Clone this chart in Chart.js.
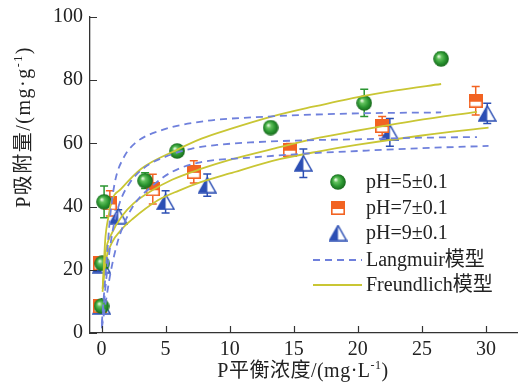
<!DOCTYPE html>
<html><head><meta charset="utf-8">
<script src="https://cdn.jsdelivr.net/npm/chart.js@4.4.1/dist/chart.umd.min.js"></script>
<style>html,body{margin:0;padding:0;background:#fff}</style>
</head><body>
<canvas id="c" width="518" height="388"></canvas>
<script>
// ---- data ----
const xTickVals = [0, 5, 10, 15, 20, 25, 30];
const yTickVals = [0, 20, 40, 60, 80, 100];
const seriesNames = ['pH=5±0.1', 'pH=7±0.1', 'pH=9±0.1'];
const modelNames = ['Langmuir模型', 'Freundlich模型'];

const pH5X = [0.0, 0.05, 0.2, 3.4, 5.9, 13.2, 20.5, 26.5];
const pH5Y = [8.5, 22, 41.5, 48.2, 57.6, 65, 72.8, 86.8];
const pH5Err = [1.5, 1.5, 5, 2.5, 1, 1, 4.3, 2];

const pH7X = [-0.1, -0.1, 0.65, 4.0, 7.2, 14.7, 21.9, 29.2];
const pH7Y = [8.5, 22, 41, 45.5, 51, 58, 65.5, 73.5];
const pH7Err = [1.5, 1.5, 4, 4.7, 3.5, 2, 3, 4.5];

const pH9X = [0.0, 0.0, 1.3, 5.0, 8.25, 15.75, 22.5, 30.1];
const pH9Y = [8.5, 21.5, 37, 41.5, 46.8, 53.7, 63.5, 69.5];
const pH9Err = [1.5, 1.5, 2, 3.5, 3.5, 4.5, 4.4, 3.2];

const lang5X = [0.02, 0.15, 0.4, 0.67, 1.05, 1.7, 2.6, 4.7, 7.8, 13, 20, 26.5];
const lang5Y = [3, 10, 23, 36.8, 47.9, 55.3, 60, 64.2, 66.9, 68.5, 69.5, 69.8];
const lang7X = [0.02, 0.2, 0.5, 0.9, 1.4, 2.2, 3.4, 5, 7, 9, 11.6, 16, 20, 25, 29.3];
const lang7Y = [2, 10, 22, 33, 41, 47.5, 52.5, 55.8, 58.3, 59.5, 60.3, 61, 61.3, 61.8, 62];
const lang9X = [0.02, 0.3, 0.7, 1.2, 1.8, 2.6, 3.8, 5.5, 7.7, 11.6, 16, 20, 25, 30.2];
const lang9Y = [1.5, 9, 19, 28, 35, 41, 46, 51, 54, 55.5, 56.8, 57.6, 58.5, 59.2];

const freu5X = [0.1, 0.28, 0.55, 0.8, 1.5, 3.1, 5.9, 7.8, 10, 13.2, 16.5, 19.9, 23, 26.5];
const freu5Y = [14, 29, 37, 42, 45.5, 52, 58, 61.5, 64.5, 68.4, 71.6, 74.6, 76.8, 78.8];
const freu7X = [0.08, 0.3, 0.8, 1.6, 2.5, 3.9, 5.5, 7.8, 10, 13.9, 17, 19.9, 24.5, 29.3];
const freu7Y = [14, 25, 31.5, 37, 41, 45, 48.5, 52, 54.8, 58.8, 61.8, 64, 67.2, 70];
const freu9X = [0.08, 0.3, 0.8, 1.5, 2.4, 4.4, 6, 7.8, 10, 13.9, 17, 19.9, 25, 30.2];
const freu9Y = [13, 22, 28.5, 32.5, 36, 42, 45, 47.8, 50.5, 55, 57.5, 59.5, 62.5, 65];

// ---- styles ----
const GREEN = '#2a9530', ORANGE = '#f26322', BLUE = '#2c4fb4';
const DASH = '#6f80dc', YEL = '#c9c634';
const FONT = '"Liberation Serif","Noto Sans CJK SC",serif';

function sphere() {
  const c = document.createElement('canvas'); c.width = 16; c.height = 16;
  const g = c.getContext('2d');
  const gr = g.createRadialGradient(5.5, 5.5, 0.5, 8, 8, 8);
  gr.addColorStop(0, '#e4f7dc'); gr.addColorStop(0.25, '#63c25e');
  gr.addColorStop(0.65, '#2a9530'); gr.addColorStop(1, '#17661b');
  g.fillStyle = gr; g.beginPath(); g.arc(8, 8, 7.8, 0, Math.PI * 2); g.fill();
  return c;
}
function halfSquare() {
  const c = document.createElement('canvas'); c.width = 14; c.height = 14;
  const g = c.getContext('2d');
  g.fillStyle = '#fff'; g.fillRect(0, 0, 14, 14);
  g.fillStyle = ORANGE; g.fillRect(0, 0, 14, 8);
  g.strokeStyle = ORANGE; g.lineWidth = 1.6; g.strokeRect(0.8, 0.8, 12.4, 12.4);
  return c;
}
function halfTriangle() {
  const c = document.createElement('canvas'); c.width = 19; c.height = 17;
  const g = c.getContext('2d');
  g.fillStyle = '#fff';
  g.beginPath(); g.moveTo(9.5, 1); g.lineTo(1, 16); g.lineTo(18, 16); g.closePath(); g.fill();
  g.fillStyle = BLUE;
  g.beginPath(); g.moveTo(9.5, 1); g.lineTo(1, 16); g.lineTo(9.5, 16); g.closePath(); g.fill();
  g.strokeStyle = BLUE; g.lineWidth = 1.5; g.lineJoin = 'miter';
  g.beginPath(); g.moveTo(9.5, 1); g.lineTo(1, 16); g.lineTo(18, 16); g.closePath(); g.stroke();
  return c;
}
const markers = [sphere(), halfSquare(), halfTriangle()];
const zip = (xs, ys) => xs.map((x, i) => ({x: x, y: ys[i]}));

function pointSet(label, xs, ys, errs, marker, color) {
  return {label, data: zip(xs, ys), errs, errColor: color, pointStyle: marker, pointRadius: 8,
    showLine: false, order: 2, backgroundColor: color, borderColor: color};
}
function lineSet(label, xs, ys, color, dashed) {
  return {label, data: zip(xs, ys), showLine: true, pointRadius: 0, borderColor: color,
    borderWidth: 1.8, borderDash: dashed ? [7, 5] : [], tension: 0.4,
    cubicInterpolationMode: 'monotone', order: 1, fill: false};
}

function drawRich(ctx, parts, cx, cy, spacing) {
  const main = '20px ' + FONT, sup = '12px ' + FONT;
  ctx.letterSpacing = (spacing || 0) + 'px';
  let w = 0;
  parts.forEach(p => { ctx.font = p.sup ? sup : main; p.w = ctx.measureText(p.t).width; w += p.w; });
  let x = cx - w / 2;
  ctx.textAlign = 'left'; ctx.textBaseline = 'middle';
  parts.forEach(p => { ctx.font = p.sup ? sup : main; ctx.fillText(p.t, x, p.sup ? cy - 6 : cy); x += p.w; });
  ctx.letterSpacing = '0px';
}

const decor = {
  id: 'decor',
  beforeDatasetsDraw(chart) {
    const ctx = chart.ctx, xs = chart.scales.x, ys = chart.scales.y;
    chart.data.datasets.forEach(ds => {
      if (!ds.errs) return;
      ctx.save(); ctx.strokeStyle = ds.errColor; ctx.lineWidth = 1.5;
      ds.data.forEach((p, i) => {
        const px = xs.getPixelForValue(p.x);
        const t = ys.getPixelForValue(p.y + ds.errs[i]), b = ys.getPixelForValue(p.y - ds.errs[i]);
        ctx.beginPath();
        ctx.moveTo(px, t); ctx.lineTo(px, b);
        ctx.moveTo(px - 4, t); ctx.lineTo(px + 4, t);
        ctx.moveTo(px - 4, b); ctx.lineTo(px + 4, b);
        ctx.stroke();
      });
      ctx.restore();
    });
  },
  afterDraw(chart) {
    const ctx = chart.ctx, xs = chart.scales.x, ys = chart.scales.y, a = chart.chartArea;
    ctx.save();
    ctx.strokeStyle = '#333'; ctx.lineWidth = 1.2;
    ctx.beginPath();
    yTickVals.forEach(v => { const py = Math.round(ys.getPixelForValue(v)) + 0.5; ctx.moveTo(a.left, py); ctx.lineTo(a.left + 7, py); });
    xTickVals.forEach(v => { const px = Math.round(xs.getPixelForValue(v)) + 0.5; ctx.moveTo(px, a.bottom); ctx.lineTo(px, a.bottom - 7); });
    ctx.stroke();
    ctx.fillStyle = '#222';
    // axis titles
    drawRich(ctx, [{t: 'P平衡浓度/(mg·L'}, {t: '-1', sup: true}, {t: ')'}], 303, 372, 0.5);
    ctx.save(); ctx.translate(25, 127); ctx.rotate(-Math.PI / 2);
    drawRich(ctx, [{t: 'P吸附量/(mg·g'}, {t: '-1', sup: true}, {t: ')'}], 0, 0, 1.5);
    ctx.restore();
    // legend
    const rows = [182, 208, 233, 260, 285];
    ctx.font = '20px ' + FONT; ctx.textAlign = 'left'; ctx.textBaseline = 'middle';
    for (let i = 0; i < 3; i++) {
      const m = markers[i];
      ctx.drawImage(m, 338 - m.width / 2, rows[i] - m.height / 2);
      ctx.fillText(seriesNames[i], 366, rows[i] + 1);
    }
    ctx.lineWidth = 1.8;
    ctx.strokeStyle = DASH; ctx.setLineDash([7, 5]);
    ctx.beginPath(); ctx.moveTo(313, rows[3]); ctx.lineTo(362, rows[3]); ctx.stroke();
    ctx.setLineDash([]); ctx.strokeStyle = YEL;
    ctx.beginPath(); ctx.moveTo(313, rows[4]); ctx.lineTo(362, rows[4]); ctx.stroke();
    ctx.fillText(modelNames[0], 366, rows[3] + 1);
    ctx.fillText(modelNames[1], 366, rows[4] + 1);
    ctx.restore();
  }
};

new Chart(document.getElementById('c'), {
  type: 'scatter',
  data: {
    datasets: [
      lineSet('Langmuir pH5', lang5X, lang5Y, DASH, true),
      lineSet('Langmuir pH7', lang7X, lang7Y, DASH, true),
      lineSet('Langmuir pH9', lang9X, lang9Y, DASH, true),
      lineSet('Freundlich pH5', freu5X, freu5Y, YEL, false),
      lineSet('Freundlich pH7', freu7X, freu7Y, YEL, false),
      lineSet('Freundlich pH9', freu9X, freu9Y, YEL, false),
      pointSet(seriesNames[0], pH5X, pH5Y, pH5Err, markers[0], GREEN),
      pointSet(seriesNames[1], pH7X, pH7Y, pH7Err, markers[1], ORANGE),
      pointSet(seriesNames[2], pH9X, pH9Y, pH9Err, markers[2], BLUE)
    ]
  },
  options: {
    responsive: false, animation: false, devicePixelRatio: 1,
    layout: {autoPadding: false, padding: {top: 17, right: 0, left: 0, bottom: 0}},
    plugins: {legend: {display: false}, tooltip: {enabled: false}},
    scales: {
      x: {
        type: 'linear', min: -0.9, max: 32.5,
        afterBuildTicks: s => { s.ticks = xTickVals.map(v => ({value: v})); },
        afterFit: s => { s.height = 55; s.paddingLeft = 0; s.paddingRight = 0; },
        grid: {display: false, drawTicks: false},
        border: {display: true, color: '#333', width: 1.3},
        ticks: {padding: 5, color: '#222', font: {family: FONT, size: 20}, maxRotation: 0}
      },
      y: {
        type: 'linear', min: 0, max: 100,
        afterBuildTicks: s => { s.ticks = yTickVals.map(v => ({value: v})); },
        afterFit: s => { s.width = 90; s.paddingTop = 0; s.paddingBottom = 0; },
        grid: {display: false, drawTicks: false},
        border: {display: true, color: '#333', width: 1.3},
        ticks: {padding: 7, color: '#222', font: {family: FONT, size: 20}}
      }
    }
  },
  plugins: [decor]
});
</script>
</body></html>
